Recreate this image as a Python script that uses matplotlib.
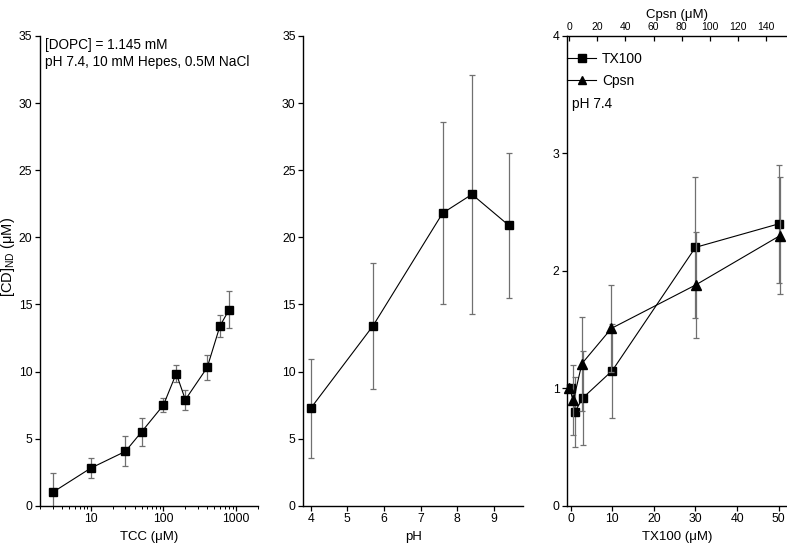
import matplotlib
matplotlib.use('Agg')
import matplotlib.pyplot as plt
from matplotlib.ticker import FixedLocator, NullFormatter, FixedFormatter

plt.rcParams['font.family'] = ['Liberation Sans', 'DejaVu Sans']
plt.rcParams['mathtext.fontset'] = 'custom'
plt.rcParams['mathtext.rm'] = 'Liberation Sans'
plt.rcParams['mathtext.it'] = 'Liberation Sans'

# ---- data ----
tcc = [3, 10, 30, 50, 100, 150, 200, 400, 600, 800]
cd_tcc = [1.0, 2.8, 4.05, 5.5, 7.5, 9.85, 7.9, 10.3, 13.4, 14.6]
err_tcc = [1.45, 0.77, 1.12, 1.07, 0.55, 0.65, 0.75, 0.92, 0.8, 1.37]

ph = [4.0, 5.7, 7.6, 8.4, 9.4]
cd_ph = [7.25, 13.4, 21.8, 23.2, 20.9]
err_ph = [3.7, 4.7, 6.8, 8.9, 5.4]

tx100 = [0, 1, 3, 10, 30, 50]
rel_tx100 = [1.0, 0.8, 0.92, 1.15, 2.2, 2.4]
err_tx100 = [0.0, 0.3, 0.4, 0.4, 0.6, 0.5]

cpsn = [0, 3, 9, 30, 90, 150]
rel_cpsn = [1.0, 0.9, 1.21, 1.51, 1.88, 2.3]
err_cpsn = [0.0, 0.3, 0.4, 0.37, 0.45, 0.5]

W, H = 787, 549
fig = plt.figure(figsize=(W / 100, H / 100), dpi=100)

y0 = 1 - 505.7 / H
hh = 469.7 / H
ax1 = fig.add_axes([40 / W, y0, 218 / W, hh])
ax2 = fig.add_axes([303.3 / W, y0, 220 / W, hh])
ax3 = fig.add_axes([567.3 / W, y0, 219.7 / W, hh])

ecol = '#707070'
tfs = 8.8
lfs = 9.5
afs = 9.8

def style(ax):
    for s in ['top', 'right']:
        ax.spines[s].set_visible(False)
    for s in ['left', 'bottom']:
        ax.spines[s].set_linewidth(1.0)
    ax.tick_params(axis='both', which='major', direction='out', length=3.5, width=0.9,
                   labelsize=tfs, pad=2)
    ax.tick_params(axis='both', which='minor', direction='out', length=2, width=0.7)

def draw(ax, x, y, e, marker, ms):
    ax.errorbar(x, y, yerr=e, fmt='none', ecolor=ecol, elinewidth=0.9,
                capsize=2.2, capthick=0.9, zorder=2, clip_on=True)
    ax.plot(x, y, color='black', lw=0.8, marker=marker, ms=ms,
            mfc='black', mec='black', zorder=3, clip_on=False)

# ---- panel 1 ----
draw(ax1, tcc, cd_tcc, err_tcc, 's', 6.2)
ax1.set_xscale('log')
ax1.set_xlim(2, 2000)
ax1.set_ylim(0, 35)
ax1.xaxis.set_major_locator(FixedLocator([10, 100, 1000]))
ax1.xaxis.set_major_formatter(FixedFormatter(['10', '100', '1000']))
ax1.xaxis.set_minor_locator(FixedLocator(
    [2, 3, 4, 5, 6, 7, 8, 9, 20, 30, 40, 50, 60, 70, 80, 90,
     200, 300, 400, 500, 600, 700, 800, 900, 2000]))
ax1.xaxis.set_minor_formatter(NullFormatter())
ax1.set_yticks(range(0, 36, 5))
style(ax1)
ax1.set_xlabel('TCC (μM)', fontsize=lfs, labelpad=4)
ax1.set_ylabel('[CD]$_{\\mathrm{ND}}$ (μM)', fontsize=10.5)
ax1.yaxis.set_label_coords(-0.105, 0.53)
ax1.text(5 / 218, (469.7 - 9) / 469.7, '[DOPC] = 1.145 mM', transform=ax1.transAxes,
         fontsize=afs, va='center', ha='left')
ax1.text(5 / 218, (469.7 - 25.7) / 469.7, 'pH 7.4, 10 mM Hepes, 0.5M NaCl',
         transform=ax1.transAxes, fontsize=afs, va='center', ha='left')

# ---- panel 2 ----
draw(ax2, ph, cd_ph, err_ph, 's', 6.2)
ax2.set_xlim(3.8, 9.8)
ax2.set_ylim(0, 35)
ax2.set_xticks([4, 5, 6, 7, 8, 9])
ax2.set_yticks(range(0, 36, 5))
style(ax2)
ax2.set_xlabel('pH', fontsize=lfs, labelpad=4)

# ---- panel 3 ----
ax3t = ax3.twiny()
ax3.errorbar(tx100, rel_tx100, yerr=err_tx100, fmt='none', ecolor=ecol, elinewidth=0.9,
             capsize=2.2, capthick=0.9, zorder=2)
l1, = ax3.plot(tx100, rel_tx100, color='black', lw=0.8, marker='s', ms=6,
               mfc='black', mec='black', zorder=3, clip_on=False, label='TX100')
ax3t.errorbar(cpsn, rel_cpsn, yerr=err_cpsn, fmt='none', ecolor=ecol, elinewidth=0.9,
              capsize=2.2, capthick=0.9, zorder=2)
l2, = ax3t.plot(cpsn, rel_cpsn, color='black', lw=0.8, marker='^', ms=6.5,
                mfc='black', mec='black', zorder=3, clip_on=False, label='Cpsn')
ax3.set_xlim(-0.8, 52)
ax3t.set_xlim(-1.4, 155)
ax3.set_ylim(0, 4)
ax3t.set_ylim(0, 4)
ax3.set_xticks([0, 10, 20, 30, 40, 50])
ax3.set_yticks([0, 1, 2, 3, 4])
ax3t.set_xticks([0, 20, 40, 60, 80, 100, 120, 140])
style(ax3)
for s in ['left', 'bottom', 'right']:
    ax3t.spines[s].set_visible(False)
ax3t.spines['top'].set_linewidth(1.0)
ax3t.tick_params(axis='x', direction='in', length=3.5, width=0.9, labelsize=7.5, pad=3)
ax3.set_xlabel('TX100 (μM)', fontsize=lfs, labelpad=4)
ax3t.set_xlabel('Cpsn (μM)', fontsize=lfs, labelpad=3)
leg = ax3t.legend([l1, l2], ['TX100', 'Cpsn'], loc='upper left',
                  bbox_to_anchor=(0.0, 0.966), frameon=False, fontsize=10,
                  handlelength=2.1, handletextpad=0.4, labelspacing=0.6,
                  borderpad=0, borderaxespad=0, markerscale=0.9)
ax3t.text(5 / 219.7, (505.7 - 104) / 469.7, 'pH 7.4', transform=ax3t.transAxes,
          fontsize=afs, va='center', ha='left')

fig.savefig('out.png', dpi=100)
